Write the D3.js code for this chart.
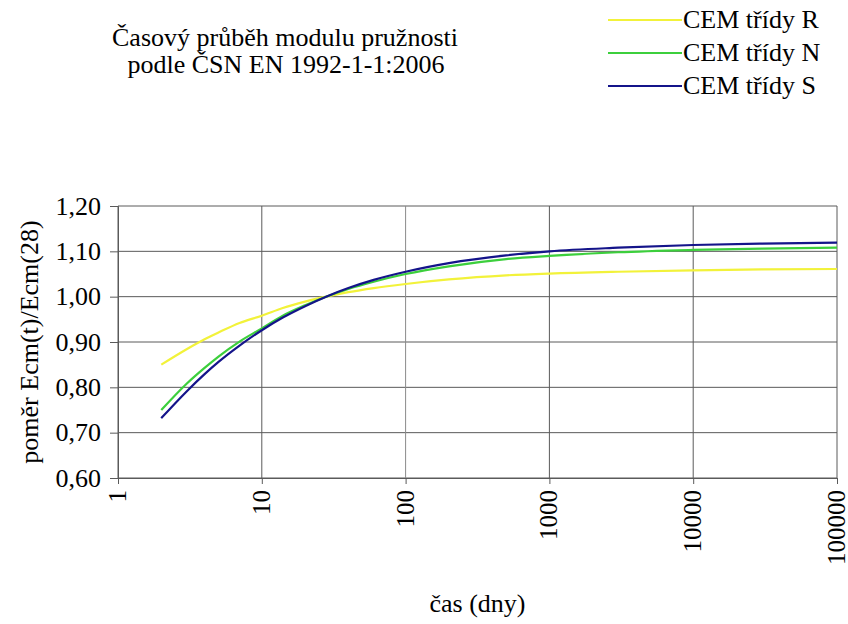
<!DOCTYPE html>
<html>
<head>
<meta charset="utf-8">
<script src="https://cdn.jsdelivr.net/npm/d3@7"></script>
</head>
<body style="margin:0">
<svg id="chart" width="848" height="624" style="font-family:'Liberation Serif','Times New Roman',serif;display:block"></svg>
<script>
// days
var days = [2, 3, 4, 5, 7, 10, 14, 20, 28, 40, 60, 100, 200, 500, 1000, 3000, 10000, 30000, 100000];
// Ecm(t)/Ecm(28)
var cemR = [0.850, 0.884, 0.906, 0.921, 0.942, 0.958, 0.975, 0.989, 1.000, 1.010, 1.019, 1.028, 1.038, 1.047, 1.051, 1.055, 1.058, 1.060, 1.061];
var cemN = [0.750, 0.808, 0.843, 0.868, 0.901, 0.930, 0.958, 0.981, 1.000, 1.017, 1.033, 1.050, 1.067, 1.083, 1.090, 1.098, 1.103, 1.106, 1.108];
var cemS = [0.732, 0.791, 0.829, 0.856, 0.892, 0.926, 0.954, 0.979, 1.000, 1.019, 1.037, 1.055, 1.074, 1.091, 1.100, 1.108, 1.114, 1.117, 1.119];

var seriesNames = ["CEM třídy R", "CEM třídy N", "CEM třídy S"];
var seriesColors = ["#f2f23a", "#3ccf3c", "#14148a"];
var xTicks = [1, 10, 100, 1000, 10000, 100000];
var yTicks = [0.6, 0.7, 0.8, 0.9, 1.0, 1.1, 1.2];

var W = 848, H = 624;
var margin = { top: 206, right: 11, bottom: 146, left: 118 },
    width = W - margin.left - margin.right,
    height = H - margin.top - margin.bottom;

// serif font as inline style
var serif = function (px) { return "font-family:'Liberation Serif','Times New Roman',serif;font-size:" + px + "px"; };

var svg = d3.select("#chart");

var g = svg.append("g")
    .attr("transform", "translate(" + margin.left + "," + margin.top + ")");

var x = d3.scaleLog().domain([1, 100000]).range([0, width]);
var y = d3.scaleLinear().domain([0.6, 1.2]).range([height, 0]);

// grid
g.selectAll(".hgrid").data(yTicks).enter().append("line")
    .attr("x1", 0).attr("x2", width)
    .attr("y1", function (d) { return y(d); })
    .attr("y2", function (d) { return y(d); })
    .attr("stroke", "#5a5a5a").attr("stroke-width", 1);
g.selectAll(".vgrid").data(xTicks).enter().append("line")
    .attr("y1", 0).attr("y2", height)
    .attr("x1", function (d) { return x(d); })
    .attr("x2", function (d) { return x(d); })
    .attr("stroke", function (d) { return d == 100 ? "#8a8a8a" : "#5a5a5a"; })
    .attr("stroke-width", 1);

// axes
var fmt = function (d) { return d3.format(".2f")(d).replace(".", ","); };
var yAxis = g.append("g")
    .call(d3.axisLeft(y).tickValues(yTicks).tickFormat(fmt).tickSize(8).tickPadding(9))
    .attr("font-family", null);
yAxis.select(".domain").attr("stroke", "#5a5a5a");
yAxis.selectAll(".tick line").attr("stroke", "#5a5a5a");
yAxis.selectAll("text").attr("style", serif(26)).attr("fill", "#000");

var xAxis = g.append("g")
    .attr("transform", "translate(0," + height + ")")
    .call(d3.axisBottom(x).tickValues(xTicks).tickFormat(d3.format("d")).tickSize(6))
    .attr("font-family", null);
xAxis.select(".domain").attr("stroke", "#5a5a5a");
xAxis.selectAll(".tick line").attr("stroke", "#5a5a5a");
xAxis.selectAll("text")
    .attr("style", serif(25))
    .attr("fill", "#000")
    .attr("text-anchor", "end")
    .attr("transform", "rotate(-90)")
    .attr("x", -12)
    .attr("y", 0)
    .attr("dy", "0.3em");

// lines
var allSeries = [cemR, cemN, cemS];
var line = d3.line()
    .x(function (d, i) { return x(days[i]); })
    .y(function (d) { return y(d); })
    .curve(d3.curveMonotoneX);

g.selectAll(".series").data(allSeries).enter().append("path")
    .attr("fill", "none")
    .attr("stroke", function (d, i) { return seriesColors[i]; })
    .attr("stroke-width", 2.2)
    .attr("d", line);

// axis titles
svg.append("text")
    .attr("x", margin.left + width / 2)
    .attr("y", 612)
    .attr("text-anchor", "middle")
    .attr("style", serif(26))
    .text("čas (dny)");

svg.append("text")
    .attr("transform", "translate(38," + (margin.top + height / 2) + ") rotate(-90)")
    .attr("text-anchor", "middle")
    .attr("style", serif(26))
    .text("poměr Ecm(t)/Ecm(28)");

// title
svg.append("text")
    .attr("x", 285).attr("y", 46)
    .attr("text-anchor", "middle")
    .attr("style", serif(26))
    .text("Časový průběh modulu pružnosti");
svg.append("text")
    .attr("x", 286).attr("y", 73)
    .attr("text-anchor", "middle")
    .attr("style", serif(26))
    .text("podle ČSN EN 1992-1-1:2006");

// legend
var legend = svg.selectAll(".legend").data(seriesNames).enter().append("g")
    .attr("transform", function (d, i) { return "translate(608," + (20 + i * 33) + ")"; });
legend.append("line")
    .attr("x1", 0).attr("x2", 74)
    .attr("stroke", function (d, i) { return seriesColors[i]; })
    .attr("stroke-width", 2);
legend.append("text")
    .attr("x", 75).attr("y", 8)
    .attr("style", serif(26))
    .text(function (d) { return d; });
</script>
</body>
</html>
